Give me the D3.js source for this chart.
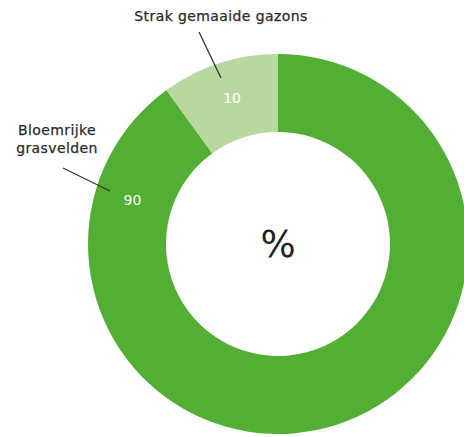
<!DOCTYPE html>
<html>
<head>
<meta charset="utf-8">
<script src="https://cdn.jsdelivr.net/npm/d3@7"></script>
<style>
  body { margin: 0; background: #fff; }
  svg { display: block; }
</style>
</head>
<body>
<div id="wrapper"></div>
<script>
// data
const categories = ["Strak gemaaide gazons", "Bloemrijke grasvelden"]
const values = [10, 90]
const colors = ["#b9d89f", "#52af33"]

async function drawDonut() {
  const width = 464
  const height = 437
  let dimensions = {
    width: width,
    height: height,
    cx: 278,
    cy: 244,
    outerRadius: 190,
    innerRadius: 112,
  }

  const dataset = categories.map((c, i) => ({ name: c, value: values[i], color: colors[i] }))

  const wrapper = d3.select("#wrapper")
    .append("svg")
      .attr("width", dimensions.width)
      .attr("height", dimensions.height)

  const bounds = wrapper.append("g")
      .attr("transform", `translate(${dimensions.cx}, ${dimensions.cy})`)

  // first slice goes counter-clockwise from 12 o'clock
  const pie = d3.pie()
      .value(d => d.value)
      .sort(null)
      .startAngle(0)
      .endAngle(-2 * Math.PI)

  const arc = d3.arc()
      .innerRadius(dimensions.innerRadius)
      .outerRadius(dimensions.outerRadius)

  const arcs = pie(dataset)

  bounds.selectAll("path")
    .data(arcs)
    .enter()
      .append("path")
      .attr("d", arc)
      .attr("fill", d => d.data.color)

  // value labels
  const valuePos = [
    { r: 153, a: -0.305 },
    { r: 152, a: -1.278 },
  ]
  bounds.selectAll(".value")
    .data(arcs)
    .enter()
      .append("text")
      .attr("class", "value")
      .attr("x", (d, i) => valuePos[i].r * Math.sin(valuePos[i].a))
      .attr("y", (d, i) => -valuePos[i].r * Math.cos(valuePos[i].a))
      .attr("dy", "0.35em")
      .attr("text-anchor", "middle")
      .attr("fill", "#fff")
      .style("font-family", "DejaVu Sans, Verdana, sans-serif")
      .style("font-size", "14px")
      .text(d => d.data.value)

  // leader lines (relative to center)
  const leaders = [
    [[-79, -212], [-57, -166]],
    [[-215, -76], [-168, -53]],
  ]
  bounds.selectAll(".leader")
    .data(leaders)
    .enter()
      .append("line")
      .attr("x1", d => d[0][0])
      .attr("y1", d => d[0][1])
      .attr("x2", d => d[1][0])
      .attr("y2", d => d[1][1])
      .attr("stroke", "#333")
      .attr("stroke-width", 1.3)

  // category labels
  const labelLines = [["Strak gemaaide gazons"], ["Bloemrijke", "grasvelden"]]
  const labelPos = [[-57, -228], [-221, -114]]
  labelLines.forEach((lines, i) => {
    const t = bounds.append("text")
        .attr("x", labelPos[i][0])
        .attr("y", labelPos[i][1])
        .attr("text-anchor", "middle")
        .attr("fill", "#2b2b2b")
        .attr("stroke", "#2b2b2b")
        .attr("stroke-width", 0.25)
        .style("font-family", "DejaVu Sans, Verdana, sans-serif")
        .style("font-size", "14px")
        .style("letter-spacing", "0.4px")
    lines.forEach((l, j) => {
      t.append("tspan")
        .attr("x", labelPos[i][0])
        .attr("dy", j == 0 ? "0.35em" : "1.3em")
        .text(l)
    })
  })

  // center
  bounds.append("text")
      .attr("x", 0)
      .attr("y", 0)
      .attr("dy", "0.35em")
      .attr("text-anchor", "middle")
      .attr("fill", "#222")
      .style("font-family", "DejaVu Sans, Verdana, sans-serif")
      .style("font-size", "37px")
      .text("%")
}
drawDonut()
</script>
</body>
</html>
